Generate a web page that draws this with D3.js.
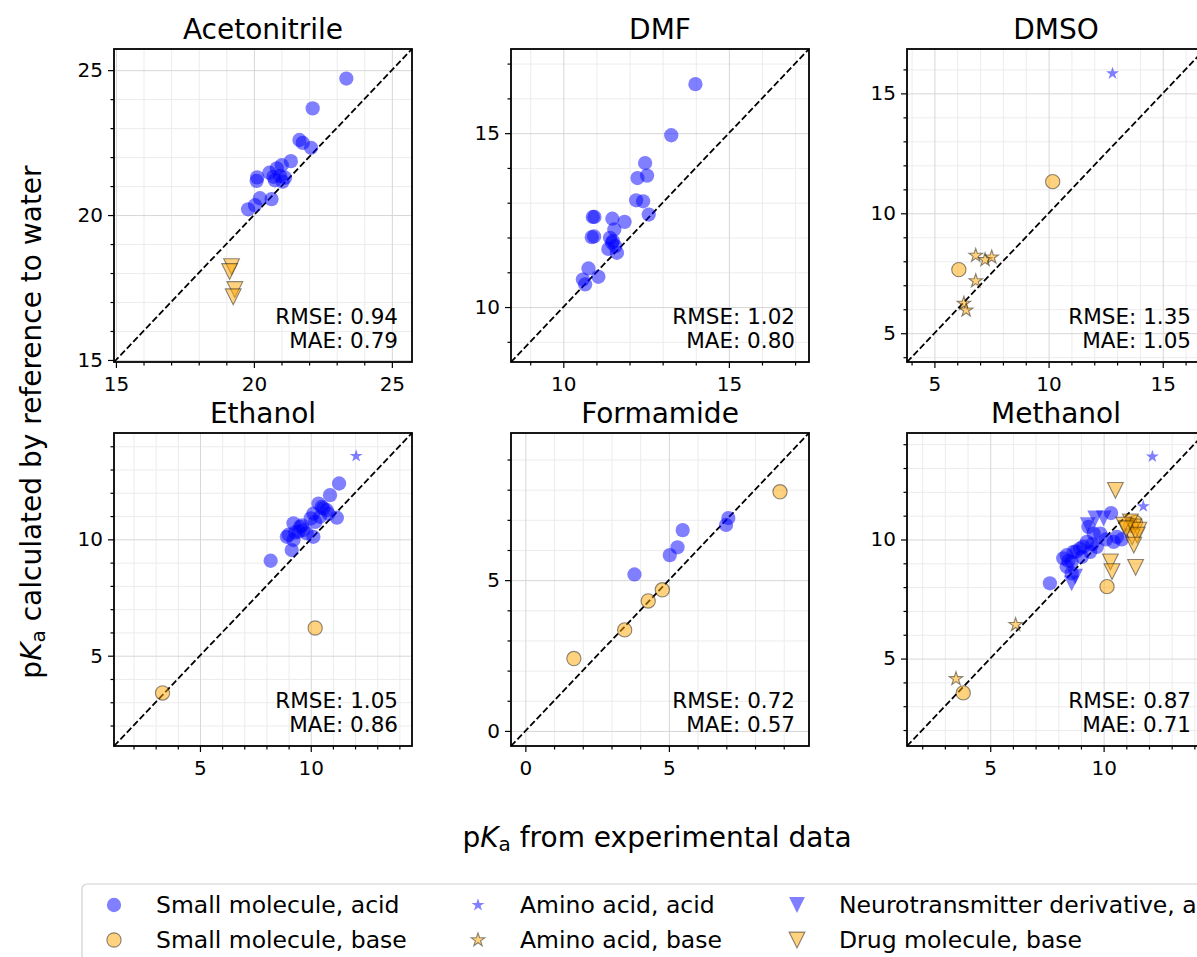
<!DOCTYPE html>
<html>
<head>
<meta charset="utf-8">
<script src="https://cdn.jsdelivr.net/npm/d3@7"></script>
<style>
  body { margin: 0; background: #fff; }
  text { font-family: "DejaVu Sans", sans-serif; fill: #000; }
</style>
</head>
<body>
<div id="chart"></div>
<script>
// pKa predicted from water reference vs experimental pKa, six solvents

const categories = ["Small molecule, acid", "Small molecule, base", "Amino acid, acid",
                    "Amino acid, base", "Neurotransmitter derivative, acid", "Drug molecule, base"];
const solvents = ["Acetonitrile", "DMF", "DMSO", "Ethanol", "Formamide", "Methanol"];
const limits = [[14.93, 25.73], [8.42, 17.42], [3.8, 16.85], [1.12, 14.57], [-0.5, 9.88], [1.33, 14.47]];
const majorTicks = [[15, 20, 25], [10, 15], [5, 10, 15], [5, 10], [0, 5], [5, 10]];
const rmse = ["0.94", "1.02", "1.35", "1.05", "0.72", "0.87"];
const mae = ["0.79", "0.80", "1.05", "0.86", "0.57", "0.71"];

// [category index, experimental pKa, calculated pKa]
const acetonitrile = [
  [0, 23.35, 24.71], [0, 22.13, 23.68], [0, 21.65, 22.59], [0, 21.77, 22.49], [0, 22.07, 22.32],
  [0, 21.34, 21.86], [0, 21.01, 21.72], [0, 20.83, 21.61], [0, 20.56, 21.46], [0, 20.12, 21.30],
  [0, 20.10, 21.18], [0, 20.71, 21.32], [0, 20.95, 21.35], [0, 21.13, 21.29], [0, 21.04, 21.15],
  [0, 20.76, 21.20], [0, 20.22, 20.58], [0, 20.64, 20.55], [0, 19.79, 20.20], [0, 20.04, 20.34],
  [5, 19.19, 18.22], [5, 19.12, 18.05], [5, 19.31, 17.43], [5, 19.25, 17.18]
];
const dmf = [
  [0, 13.99, 16.41], [0, 13.26, 14.94], [0, 12.47, 14.14], [0, 12.24, 13.71], [0, 12.53, 13.78],
  [0, 12.20, 13.07], [0, 12.41, 13.04], [0, 12.58, 12.66], [0, 10.94, 12.59], [0, 10.89, 12.59],
  [0, 11.48, 12.54], [0, 11.85, 12.45], [0, 10.86, 12.01], [0, 10.93, 12.03], [0, 11.54, 12.23],
  [0, 11.41, 11.99], [0, 11.47, 11.85], [0, 11.36, 11.67], [0, 11.57, 11.75], [0, 11.62, 11.56],
  [0, 11.50, 11.90], [0, 10.76, 11.11], [0, 10.59, 10.79], [0, 11.06, 10.87], [0, 10.66, 10.65]
];
const dmso = [
  [1, 10.18, 11.32], [1, 6.07, 7.65],
  [2, 12.80, 15.83],
  [3, 6.81, 8.24], [3, 7.22, 8.06], [3, 7.51, 8.17], [3, 6.81, 7.18], [3, 6.29, 6.24], [3, 6.39, 5.96]
];
const ethanol = [
  [0, 11.28, 12.40], [0, 10.87, 11.90], [0, 11.18, 10.93], [0, 10.35, 11.54], [0, 10.57, 11.33],
  [0, 10.12, 11.11], [0, 10.72, 11.26], [0, 10.42, 10.97], [0, 10.20, 10.75], [0, 10.12, 10.11],
  [0, 9.52, 10.54], [0, 9.22, 10.69], [0, 9.67, 10.40], [0, 8.92, 10.11], [0, 9.22, 9.97],
  [0, 9.14, 9.54], [0, 8.19, 9.08], [0, 9.45, 10.33], [0, 9.82, 10.26], [0, 9.30, 10.30],
  [0, 9.00, 10.20], [0, 10.50, 11.40], [0, 10.80, 11.10], [0, 9.60, 10.60], [0, 10.00, 10.90],
  [1, 10.20, 6.19], [1, 3.31, 3.40],
  [2, 12.05, 13.58]
];
const formamide = [
  [0, 7.07, 7.06], [0, 6.99, 6.83], [0, 5.48, 6.66], [0, 5.30, 6.09], [0, 5.03, 5.83], [0, 3.80, 5.19],
  [1, 8.87, 7.93], [1, 4.77, 4.68], [1, 4.28, 4.31], [1, 3.46, 3.35], [1, 1.69, 2.40]
];
const methanol = [
  [0, 10.33, 11.11], [0, 9.33, 10.53], [0, 9.56, 10.25], [0, 9.85, 10.25], [0, 10.59, 10.11],
  [0, 10.44, 9.90], [0, 9.26, 9.90], [0, 9.70, 9.69], [0, 8.96, 9.62], [0, 8.67, 9.48],
  [0, 8.37, 9.34], [0, 8.22, 9.21], [0, 8.59, 9.06], [0, 9.04, 9.27], [0, 9.41, 9.48],
  [0, 8.37, 8.86], [0, 8.59, 8.58], [0, 7.63, 8.16], [0, 8.80, 9.50], [0, 9.10, 9.70],
  [0, 10.10, 10.00], [0, 10.80, 10.00], [0, 9.50, 9.80], [0, 8.45, 9.10],
  [1, 10.15, 8.02], [1, 3.81, 3.56], [1, 11.40, 10.72], [1, 11.20, 10.60],
  [2, 12.15, 13.48], [2, 11.75, 11.39],
  [3, 6.12, 6.42], [3, 3.49, 4.15],
  [4, 9.63, 10.88], [4, 10.00, 10.88], [4, 8.59, 8.16], [4, 8.74, 8.44], [4, 9.30, 10.60],
  [5, 10.52, 12.06], [5, 11.41, 8.83], [5, 10.30, 9.06], [5, 10.37, 8.65], [5, 11.18, 10.74],
  [5, 11.33, 10.53], [5, 11.55, 10.39], [5, 11.26, 10.11], [5, 11.48, 10.18], [5, 11.33, 9.76],
  [5, 10.89, 10.60], [5, 11.00, 10.45]
];
const solventPoints = [acetonitrile, dmf, dmso, ethanol, formamide, methanol];

// ---- layout and styles
const W = 1197, H = 957;
const colLeft = [114, 511, 907], rowTop = [49, 433];
const pw = 298, ph = 313;

const triDown = {
  draw(ctx, size) {
    const r = Math.sqrt(size) / 2;
    ctx.moveTo(0, r);
    ctx.lineTo(-r, -r);
    ctx.lineTo(r, -r);
    ctx.closePath();
  }
};
const catSymbol = [d3.symbolCircle, d3.symbolCircle, d3.symbolStar, d3.symbolStar, triDown, triDown];
const catSize = [160, 160, 52, 58, 250, 250];
const isBase = i => i % 2 === 1;

function styleMarker(sel, cat) {
  if (isBase(cat)) {
    sel.attr("fill", "orange").attr("fill-opacity", 0.5)
      .attr("stroke", "#000").attr("stroke-opacity", 0.45).attr("stroke-width", 1.1);
  } else {
    sel.attr("fill", "blue").attr("fill-opacity", 0.5).attr("stroke", "none");
  }
}

const svg = d3.select("#chart").append("svg")
  .attr("width", W).attr("height", H);

solvents.forEach((name, i) => {
  const left = colLeft[i % 3], top = rowTop[Math.floor(i / 3)];
  const lim = limits[i];
  const x = d3.scaleLinear().domain(lim).range([left, left + pw]);
  const y = d3.scaleLinear().domain(lim).range([top + ph, top]);
  const minor = d3.range(Math.ceil(lim[0]), Math.floor(lim[1]) + 1);
  const minorOnly = minor.filter(v => !majorTicks[i].includes(v));

  const g = svg.append("g");
  g.append("clipPath").attr("id", "clip" + i)
    .append("rect").attr("x", left).attr("y", top).attr("width", pw).attr("height", ph);

  // grid (minor, then major)
  const gridStyle = (sel, color) => {
    sel.select(".domain").remove();
    sel.selectAll(".tick line").attr("stroke", color).attr("stroke-width", 1);
    sel.selectAll(".tick text").remove();
  };
  g.append("g").attr("transform", `translate(0,${top + ph})`)
    .call(d3.axisBottom(x).tickValues(minorOnly).tickSize(-ph).tickFormat(""))
    .call(gridStyle, "#ececec");
  g.append("g").attr("transform", `translate(${left},0)`)
    .call(d3.axisLeft(y).tickValues(minorOnly).tickSize(-pw).tickFormat(""))
    .call(gridStyle, "#ececec");
  g.append("g").attr("transform", `translate(0,${top + ph})`)
    .call(d3.axisBottom(x).tickValues(majorTicks[i]).tickSize(-ph).tickFormat(""))
    .call(gridStyle, "#d6d6d6");
  g.append("g").attr("transform", `translate(${left},0)`)
    .call(d3.axisLeft(y).tickValues(majorTicks[i]).tickSize(-pw).tickFormat(""))
    .call(gridStyle, "#d6d6d6");

  // y = x reference line
  g.append("line")
    .attr("x1", x(lim[0])).attr("y1", y(lim[0]))
    .attr("x2", x(lim[1])).attr("y2", y(lim[1]))
    .attr("stroke", "#000").attr("stroke-width", 1.8)
    .attr("stroke-dasharray", "6.5,2.8");

  // points, drawn category by category
  const pts = g.append("g").attr("clip-path", `url(#clip${i})`);
  categories.forEach((c, ci) => {
    const sub = solventPoints[i].filter(d => d[0] === ci);
    pts.selectAll(null).data(sub).enter().append("path")
      .attr("transform", d => `translate(${x(d[1])},${y(d[2])})`)
      .attr("d", d3.symbol().type(catSymbol[ci]).size(catSize[ci]))
      .call(styleMarker, ci);
  });

  // ticks and labels
  const tickStyle = sel => {
    sel.select(".domain").remove();
    sel.selectAll(".tick line").attr("stroke", "#000").attr("stroke-width", 1.2);
    sel.selectAll(".tick text").style("font-size", "20px");
  };
  g.append("g").attr("transform", `translate(0,${top + ph})`)
    .call(d3.axisBottom(x).tickValues(minorOnly).tickSize(3.5).tickFormat(""))
    .call(tickStyle);
  g.append("g").attr("transform", `translate(${left},0)`)
    .call(d3.axisLeft(y).tickValues(minorOnly).tickSize(3.5).tickFormat(""))
    .call(tickStyle);
  g.append("g").attr("transform", `translate(0,${top + ph})`)
    .call(d3.axisBottom(x).tickValues(majorTicks[i]).tickSize(6).tickPadding(9).tickFormat(d3.format("d")))
    .call(tickStyle);
  g.append("g").attr("transform", `translate(${left},0)`)
    .call(d3.axisLeft(y).tickValues(majorTicks[i]).tickSize(6).tickPadding(5).tickFormat(d3.format("d")))
    .call(tickStyle);

  // frame
  g.append("rect")
    .attr("x", left).attr("y", top).attr("width", pw).attr("height", ph)
    .attr("fill", "none").attr("stroke", "#000").attr("stroke-width", 1.8);

  // title
  g.append("text")
    .attr("x", left + pw / 2).attr("y", top - 10)
    .attr("text-anchor", "middle")
    .style("font-size", "28px")
    .text(name);

  // error metrics
  g.append("text")
    .attr("x", left + pw - 14).attr("y", top + ph - 38)
    .attr("text-anchor", "end").style("font-size", "21.5px")
    .text("RMSE: " + rmse[i]);
  g.append("text")
    .attr("x", left + pw - 14).attr("y", top + ph - 14)
    .attr("text-anchor", "end").style("font-size", "21.5px")
    .text("MAE: " + mae[i]);
});

// axis labels with p<i>K</i><sub>a</sub>
function pKaLabel(sel, rest) {
  sel.append("tspan").text("p");
  sel.append("tspan").style("font-style", "italic").text("K");
  sel.append("tspan").attr("baseline-shift", "-22%").style("font-size", "20px").text("a");
  sel.append("tspan").text(rest);
}
svg.append("text")
  .attr("x", 657).attr("y", 847)
  .attr("text-anchor", "middle").style("font-size", "28px")
  .call(pKaLabel, " from experimental data");
svg.append("text")
  .attr("transform", "translate(41,422) rotate(-90)")
  .attr("text-anchor", "middle").style("font-size", "28px")
  .call(pKaLabel, " calculated by reference to water");

// legend
const leg = svg.append("g");
leg.append("rect")
  .attr("x", 82).attr("y", 884).attr("width", 1200).attr("height", 100).attr("rx", 5)
  .attr("fill", "#fff").attr("stroke", "#d0d0d0").attr("stroke-width", 1.2);
const legX = [114, 478, 797], legY = [905, 940];
categories.forEach((c, ci) => {
  const lx = legX[Math.floor(ci / 2)], ly = legY[ci % 2];
  leg.append("path")
    .attr("transform", `translate(${lx},${ly})`)
    .attr("d", d3.symbol().type(catSymbol[ci]).size(catSize[ci]))
    .call(styleMarker, ci);
  leg.append("text")
    .attr("x", lx + 42).attr("y", ly + 8)
    .style("font-size", "23.5px")
    .text(c);
});
</script>
</body>
</html>
